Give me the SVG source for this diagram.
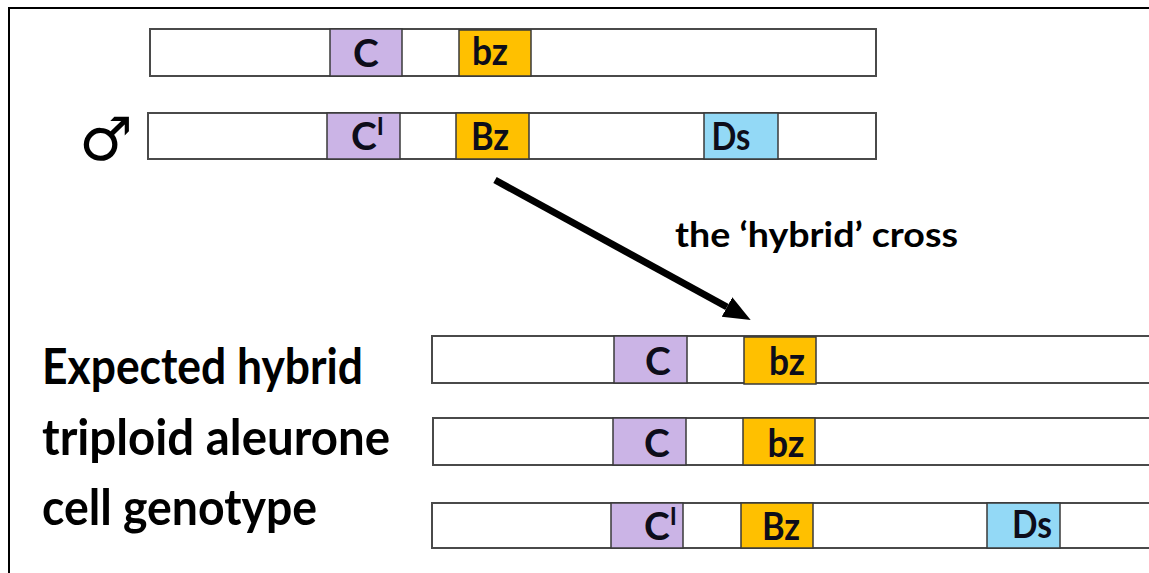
<svg xmlns="http://www.w3.org/2000/svg" width="1149" height="573" viewBox="0 0 1149 573">
<style>
.chr{fill:#fff;stroke:#4a4a4a;stroke-width:2}
.c{fill:#CBB4E6;stroke:#3a3a3a;stroke-width:1.5}
.b{fill:#FFC000;stroke:#3a3a3a;stroke-width:1.5}
.d{fill:#93D9F6;stroke:#3a3a3a;stroke-width:1.5}
.lbl{font-family:Lato,"Open Sans","Liberation Sans",sans-serif;font-weight:bold;font-size:39px;fill:#0d0d1a}
.big{font-family:Lato,"Open Sans","Liberation Sans",sans-serif;font-weight:bold;font-size:50px;fill:#000}
.mid{font-family:Lato,"Open Sans","Liberation Sans",sans-serif;font-weight:bold;font-size:34px;fill:#000}
</style>
<defs>
<marker id="ah" markerWidth="28" markerHeight="24" refX="0" refY="11" orient="auto" markerUnits="userSpaceOnUse">
<path d="M0,0 L27,11 L0,22 z" fill="#000"/>
</marker>
</defs>
<rect x="0" y="0" width="1149" height="573" fill="#fff"/>
<rect x="9" y="8" width="1200" height="620" fill="none" stroke="#000" stroke-width="2"/>

<g id="row1">
<rect class="chr" x="150" y="29" width="726" height="47"/>
<rect class="c" x="330" y="29" width="72" height="47"/>
<rect class="b" x="459" y="30" width="72" height="46"/>
<text class="lbl" x="366" y="67" text-anchor="middle">C</text>
<text class="lbl" x="490" y="65" text-anchor="middle" textLength="36" lengthAdjust="spacingAndGlyphs">bz</text>
</g>

<g id="row2">
<text x="106" y="160" text-anchor="middle" font-family="DejaVu Sans,sans-serif" font-weight="bold" font-size="60" fill="#000">♂</text>
<rect class="chr" x="148" y="113" width="728" height="46"/>
<rect class="c" x="327" y="113" width="73" height="46"/>
<rect class="b" x="456" y="113" width="73" height="46"/>
<rect class="d" x="704" y="113" width="74" height="46"/>
<text class="lbl" x="351" y="150">C<tspan font-size="24" dy="-15">I</tspan></text>
<text class="lbl" x="490" y="150" text-anchor="middle" textLength="38" lengthAdjust="spacingAndGlyphs">Bz</text>
<text class="lbl" x="731" y="150" text-anchor="middle" textLength="39" lengthAdjust="spacingAndGlyphs">Ds</text>
</g>

<g id="connectors">
<line x1="495" y1="180" x2="727" y2="307" stroke="#000" stroke-width="7" marker-end="url(#ah)"/>
</g>

<g id="cross-label">
<text class="mid" x="675" y="247" textLength="283" lengthAdjust="spacingAndGlyphs">the ‘hybrid’ cross</text>
</g>

<g id="caption">
<text class="big" x="42" y="384" textLength="321" lengthAdjust="spacingAndGlyphs">Expected hybrid</text>
<text class="big" x="42" y="455" textLength="348" lengthAdjust="spacingAndGlyphs">triploid aleurone</text>
<text class="big" x="42" y="525" textLength="275" lengthAdjust="spacingAndGlyphs">cell genotype</text>
</g>

<g id="rowA">
<rect class="chr" x="432" y="336" width="740" height="47"/>
<rect class="c" x="614" y="336" width="73" height="47"/>
<rect class="b" x="744" y="337" width="72" height="47"/>
<text class="lbl" x="658" y="375" text-anchor="middle">C</text>
<text class="lbl" x="787" y="375" text-anchor="middle" textLength="36" lengthAdjust="spacingAndGlyphs">bz</text>
</g>

<g id="rowB">
<rect class="chr" x="433" y="418" width="740" height="47"/>
<rect class="c" x="613" y="418" width="73" height="47"/>
<rect class="b" x="743" y="418" width="72" height="47"/>
<text class="lbl" x="657" y="457" text-anchor="middle">C</text>
<text class="lbl" x="786" y="457" text-anchor="middle" textLength="37" lengthAdjust="spacingAndGlyphs">bz</text>
</g>

<g id="rowC">
<rect class="chr" x="432" y="503" width="740" height="45"/>
<rect class="c" x="611" y="503" width="72" height="45"/>
<rect class="b" x="741" y="503" width="72" height="45"/>
<rect class="d" x="987" y="503" width="73" height="45"/>
<text class="lbl" x="644" y="540">C<tspan font-size="24" dy="-15">I</tspan></text>
<text class="lbl" x="781" y="540" text-anchor="middle" textLength="38" lengthAdjust="spacingAndGlyphs">Bz</text>
<text class="lbl" x="1032" y="538" text-anchor="middle" textLength="40" lengthAdjust="spacingAndGlyphs">Ds</text>
</g>
</svg>
